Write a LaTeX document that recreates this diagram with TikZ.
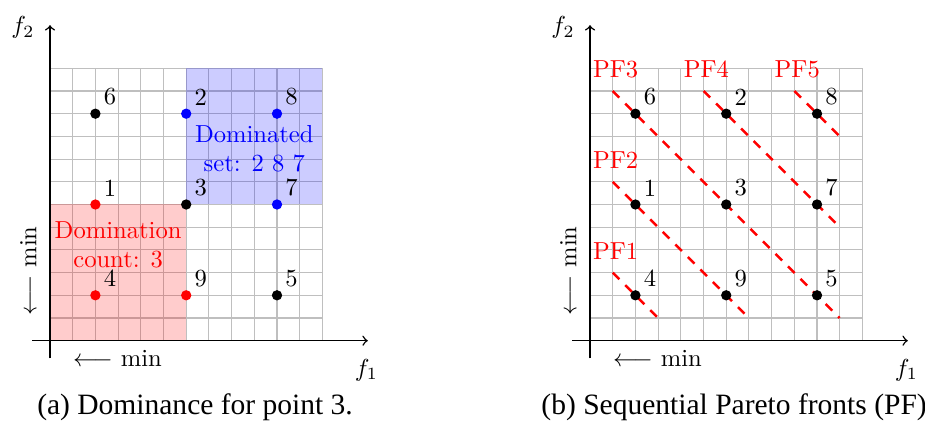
\documentclass[tikz,border=0pt]{standalone}
\usepackage{fontspec}
\newfontfamily\capfont{Liberation Serif}
\begin{document}
\begin{tikzpicture}[x=9.228pt,y=9.228pt,
  gridline/.style={gray!50, line width=0.45pt},
  axisline/.style={->, line width=0.6pt},
  dot/.style={circle, fill, inner sep=0pt, minimum size=4.2pt},
  num/.style={above right, inner sep=3.2pt},
  front/.style={red, line width=1pt, dash pattern=on 3.8pt off 3.4pt},
  pflabel/.style={red, inner sep=0pt},
  captext/.style={inner sep=0pt, font=\capfont\fontsize{12}{14}\selectfont}]
\useasboundingbox (-2.2026,-4.330) rectangle (38.546,15.009);

\newcommand\panelbase[1]{%
  \draw[gridline, step=1] (0,0) grid (12,12);
}
\newcommand\panelaxes[1]{%
  \coordinate (#1xs) at (-0.78,0);
  \coordinate (#1xe) at (14,0);
  \coordinate (#1ys) at (0,-0.78);
  \coordinate (#1ye) at (0,13.9);
  \draw[axisline] (#1xs) -- (#1xe);
  \draw[axisline] (#1ys) -- (#1ye);
  \node (#1f2) at (-1.19,13.8) {$f_2$};
  \node (#1f1) at (13.94,-1.29) {$f_1$};
  \node (#1minx) at (2.97,-0.78) {$\longleftarrow$ min};
  \node[rotate=90] (#1miny) at (-0.96,3.08) {$\longleftarrow$ min};
}

% ---------------- panel (a)
\begin{scope}
  \panelbase{a}
  \fill[blue, opacity=0.2] (6,6) rectangle (12,12);
  \fill[red, opacity=0.2] (0,0) rectangle (6,6);
  \panelaxes{a}
  \node[dot, black] (a6) at (2,10) {};
  \node[dot, blue]  (a2) at (6,10) {};
  \node[dot, blue]  (a8) at (10,10) {};
  \node[dot, red]   (a1) at (2,6) {};
  \node[dot, black] (a3) at (6,6) {};
  \node[dot, blue]  (a7) at (10,6) {};
  \node[dot, red]   (a4) at (2,2) {};
  \node[dot, red]   (a9) at (6,2) {};
  \node[dot, black] (a5) at (10,2) {};
  \foreach \n in {1,...,9} { \node[num] (la\n) at (a\n) {\n}; }
  \node[blue, align=center, inner sep=0pt] (adom) at (9,8.45) {Dominated\\set: 2 8 7};
  \node[red, align=center, inner sep=0pt] (acnt) at (3,4.22) {Domination\\count: 3};
  \node[captext, anchor=base] (capa) at (6.39,-3.27) {(a) Dominance for point 3.};
\end{scope}

% ---------------- panel (b)
\begin{scope}[shift={(23.789,0)}]
  \panelbase{b}
  \panelaxes{b}
  \coordinate (s1) at (1,3);  \coordinate (e1) at (3,1);
  \coordinate (s2) at (1,7);  \coordinate (e2) at (7,1);
  \coordinate (s3) at (1,11); \coordinate (e3) at (11,1);
  \coordinate (s4) at (5,11); \coordinate (e4) at (11,5);
  \coordinate (s5) at (9,11); \coordinate (e5) at (11,9);
  \foreach \k in {1,...,5} { \draw[front] (s\k) -- (e\k); }
  \node[dot] (b6) at (2,10) {};
  \node[dot] (b2) at (6,10) {};
  \node[dot] (b8) at (10,10) {};
  \node[dot] (b1) at (2,6) {};
  \node[dot] (b3) at (6,6) {};
  \node[dot] (b7) at (10,6) {};
  \node[dot] (b4) at (2,2) {};
  \node[dot] (b9) at (6,2) {};
  \node[dot] (b5) at (10,2) {};
  \foreach \n in {1,...,9} { \node[num] (lb\n) at (b\n) {\n}; }
  \node[pflabel] (pf3) at (1.13,11.95) {PF3};
  \node[pflabel] (pf4) at (5.13,11.95) {PF4};
  \node[pflabel] (pf5) at (9.13,11.95) {PF5};
  \node[pflabel] (pf2) at (1.13,7.95) {PF2};
  \node[pflabel] (pf1) at (1.13,3.95) {PF1};
  \node[captext, anchor=base west] (capb) at (-2.16,-3.27) {(b) Sequential Pareto fronts (PF).};
\end{scope}
\end{tikzpicture}
\end{document}
